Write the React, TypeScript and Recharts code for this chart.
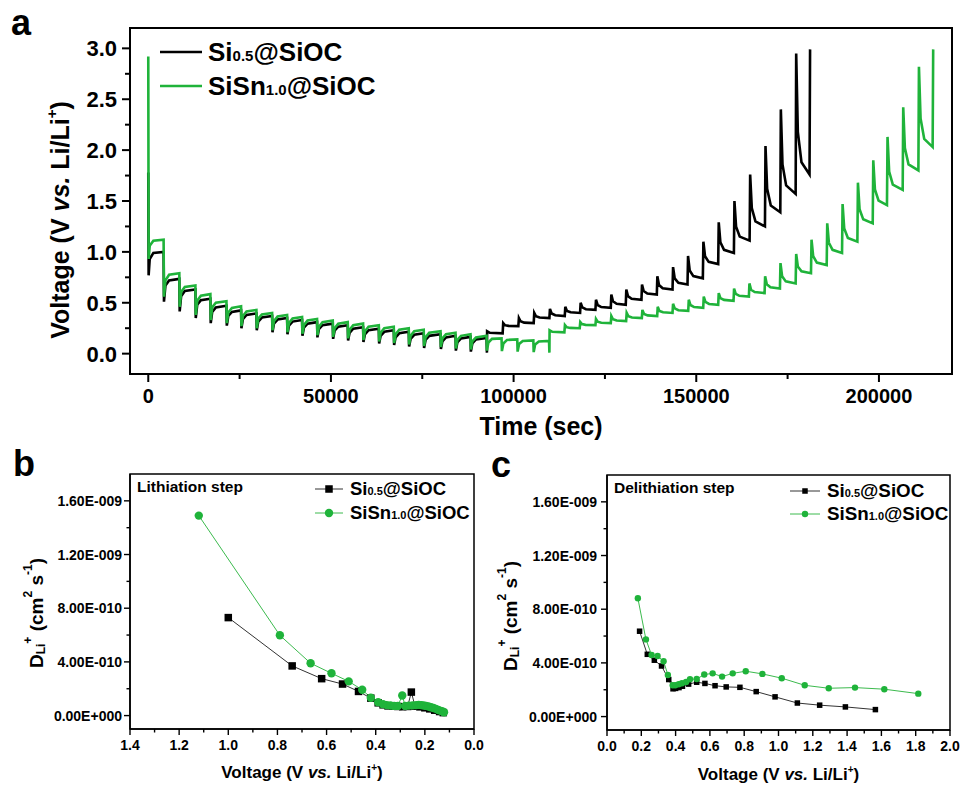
import React from 'react';
import { LineChart, Line, XAxis, YAxis, ReferenceArea, Legend, Label } from 'recharts';

const FONT = "Arial, 'Liberation Sans', Helvetica, sans-serif";
const BLACK = '#000000';
const GREEN = '#1fb33a';
const GREEN_LINE = '#3cba4e';

// (a) GITT profiles, [time (s), voltage (V)]
const si05Lith: [number, number][] = [
  [0, 1.78], [100, 0.77], [400, 0.93], [1400, 0.99],
  [4200, 1.0], [4300, 0.51], [4700, 0.67], [5700, 0.72],
  [8500, 0.735], [8600, 0.415], [9000, 0.565], [10000, 0.615],
  [12900, 0.63], [13000, 0.35], [13400, 0.48], [14400, 0.525],
  [17000, 0.54], [17100, 0.3], [17500, 0.41], [18500, 0.455],
  [21400, 0.47], [21500, 0.275], [21900, 0.37], [22900, 0.41],
  [25400, 0.425], [25500, 0.25], [25900, 0.34], [26900, 0.38],
  [29600, 0.395], [29700, 0.23], [30100, 0.315], [31100, 0.355],
  [33900, 0.37], [34000, 0.21], [34400, 0.295], [35400, 0.335],
  [38000, 0.35], [38100, 0.19], [38500, 0.275], [39500, 0.315],
  [42100, 0.33], [42200, 0.175], [42600, 0.255], [43600, 0.295],
  [46200, 0.31], [46300, 0.16], [46700, 0.24], [47700, 0.28],
  [50500, 0.295], [50600, 0.145], [51000, 0.225], [52000, 0.265],
  [54600, 0.28], [54700, 0.13], [55100, 0.205], [56100, 0.245],
  [58800, 0.26], [58900, 0.115], [59300, 0.19], [60300, 0.23],
  [63100, 0.245], [63200, 0.1], [63600, 0.175], [64600, 0.215],
  [67200, 0.23], [67300, 0.085], [67700, 0.16], [68700, 0.2],
  [71300, 0.215], [71400, 0.07], [71800, 0.145], [72800, 0.185],
  [75400, 0.2], [75500, 0.055], [75900, 0.135], [76900, 0.175],
  [80000, 0.19], [80100, 0.045], [80500, 0.12], [81500, 0.16],
  [84100, 0.175], [84200, 0.03], [84600, 0.11], [85600, 0.15],
  [88200, 0.165], [88300, 0.02], [88700, 0.1], [89700, 0.14],
  [92600, 0.155], [92700, 0.01],
];

const si05Delith: [number, number][] = [
  [92750, 0.22], [93500, 0.205], [97000, 0.2],
  [97150, 0.3], [97600, 0.28], [98600, 0.273], [101300, 0.27],
  [101450, 0.35], [101900, 0.318], [102900, 0.305], [105500, 0.3],
  [105650, 0.4], [106100, 0.368], [107100, 0.355], [109800, 0.35],
  [109950, 0.44], [110400, 0.395], [111400, 0.377], [114000, 0.37],
  [114150, 0.46], [114600, 0.42], [115600, 0.406], [118200, 0.4],
  [118350, 0.5], [118800, 0.455], [119800, 0.437], [122400, 0.43],
  [122550, 0.53], [123000, 0.478], [124000, 0.458], [126600, 0.45],
  [126750, 0.58], [127200, 0.515], [128200, 0.49], [130700, 0.48],
  [130850, 0.63], [131300, 0.565], [132300, 0.54], [135000, 0.53],
  [135150, 0.68], [135600, 0.615], [136600, 0.59], [139200, 0.58],
  [139350, 0.76], [139800, 0.675], [140800, 0.643], [143500, 0.63],
  [143650, 0.85], [144100, 0.74], [145100, 0.697], [147600, 0.68],
  [147750, 0.96], [148200, 0.817], [149200, 0.762], [151800, 0.74],
  [151950, 1.1], [152400, 0.957], [153400, 0.902], [156000, 0.88],
  [156150, 1.29], [156600, 1.095], [157600, 1.02], [160300, 0.99],
  [160450, 1.5], [160900, 1.247], [161900, 1.15], [164600, 1.11],
  [164750, 1.76], [165200, 1.43], [166200, 1.3], [168800, 1.25],
  [168950, 2.04], [169400, 1.62], [170400, 1.455], [173000, 1.39],
  [173150, 2.4], [173600, 1.86], [174600, 1.653], [177200, 1.57],
  [177350, 2.95], [177800, 2.18], [178800, 1.88], [181000, 1.76],
  [181150, 2.99],
];

const sisnLith: [number, number][] = [
  [0, 2.92], [100, 0.93], [400, 1.06], [1400, 1.11],
  [4200, 1.12], [4300, 0.56], [4700, 0.72], [5700, 0.775],
  [8500, 0.79], [8600, 0.46], [9000, 0.605], [10000, 0.655],
  [12900, 0.67], [13000, 0.38], [13400, 0.52], [14400, 0.57],
  [17000, 0.585], [17100, 0.33], [17500, 0.455], [18500, 0.5],
  [21400, 0.515], [21500, 0.3], [21900, 0.405], [22900, 0.45],
  [25400, 0.465], [25500, 0.27], [25900, 0.37], [26900, 0.415],
  [29600, 0.43], [29700, 0.25], [30100, 0.345], [31100, 0.385],
  [33900, 0.4], [34000, 0.23], [34400, 0.32], [35400, 0.365],
  [38000, 0.38], [38100, 0.21], [38500, 0.3], [39500, 0.345],
  [42100, 0.36], [42200, 0.195], [42600, 0.28], [43600, 0.325],
  [46200, 0.34], [46300, 0.18], [46700, 0.265], [47700, 0.31],
  [50500, 0.325], [50600, 0.165], [51000, 0.25], [52000, 0.295],
  [54600, 0.31], [54700, 0.15], [55100, 0.235], [56100, 0.28],
  [58800, 0.295], [58900, 0.135], [59300, 0.22], [60300, 0.265],
  [63100, 0.28], [63200, 0.12], [63600, 0.205], [64600, 0.25],
  [67200, 0.265], [67300, 0.105], [67700, 0.19], [68700, 0.235],
  [71300, 0.25], [71400, 0.09], [71800, 0.175], [72800, 0.22],
  [75400, 0.235], [75500, 0.075], [75900, 0.16], [76900, 0.205],
  [80000, 0.22], [80100, 0.065], [80500, 0.15], [81500, 0.19],
  [84100, 0.205], [84200, 0.05], [84600, 0.135], [85600, 0.175],
  [88200, 0.19], [88300, 0.04], [88700, 0.12], [89700, 0.16],
  [92600, 0.175], [92700, 0.03], [93100, 0.11], [94100, 0.145],
  [96700, 0.15], [96800, 0.025], [97200, 0.1], [98200, 0.135],
  [101000, 0.14], [101100, 0.02], [101500, 0.095], [102500, 0.125],
  [105400, 0.13], [105500, 0.015], [105900, 0.09], [106900, 0.12],
  [109700, 0.125], [109800, 0.01],
];

const sisnDelith: [number, number][] = [
  [109850, 0.23], [110600, 0.215], [113900, 0.21],
  [114050, 0.28], [114500, 0.26], [115500, 0.253], [118100, 0.25],
  [118250, 0.31], [118700, 0.29], [119700, 0.283], [122400, 0.28],
  [122550, 0.34], [123000, 0.314], [124000, 0.304], [126600, 0.3],
  [126750, 0.37], [127200, 0.338], [128200, 0.325], [130800, 0.32],
  [130950, 0.4], [131400, 0.368], [132400, 0.355], [135100, 0.35],
  [135250, 0.43], [135700, 0.39], [136700, 0.376], [139300, 0.37],
  [139450, 0.46], [139900, 0.42], [140900, 0.406], [143500, 0.4],
  [143650, 0.49], [144100, 0.445], [145100, 0.427], [147800, 0.42],
  [147950, 0.53], [148400, 0.478], [149400, 0.458], [151900, 0.45],
  [152050, 0.56], [152500, 0.508], [153500, 0.488], [156000, 0.48],
  [156150, 0.595], [156600, 0.546], [157600, 0.528], [160200, 0.52],
  [160350, 0.64], [160800, 0.588], [161800, 0.568], [164400, 0.56],
  [164550, 0.69], [165000, 0.628], [166000, 0.605], [168700, 0.595],
  [168850, 0.76], [169300, 0.682], [170300, 0.652], [172900, 0.64],
  [173050, 0.89], [173500, 0.76], [174500, 0.71], [177200, 0.69],
  [177350, 0.98], [177800, 0.856], [178800, 0.81], [181400, 0.79],
  [181550, 1.12], [182000, 0.958], [183000, 0.895], [185700, 0.87],
  [185850, 1.28], [186300, 1.09], [187300, 1.02], [189900, 0.99],
  [190050, 1.47], [190500, 1.23], [191500, 1.137], [194100, 1.1],
  [194250, 1.68], [194700, 1.42], [195700, 1.32], [198300, 1.28],
  [198450, 1.9], [198900, 1.614], [199900, 1.504], [202200, 1.46],
  [202350, 2.13], [202800, 1.79], [203800, 1.66], [206500, 1.61],
  [206650, 2.42], [207100, 2.02], [208100, 1.86], [210800, 1.8],
  [210950, 2.82], [211400, 2.31], [212400, 2.11], [214700, 2.03],
  [214850, 2.99],
];

const timeTicks = [0, 25000, 50000, 75000, 100000, 125000, 150000, 175000, 200000];
const timeMajor = [0, 50000, 100000, 150000, 200000];
const voltTicks = [0, 0.25, 0.5, 0.75, 1.0, 1.25, 1.5, 1.75, 2.0, 2.25, 2.5, 2.75, 3.0];
const voltMajor = [0, 0.5, 1.0, 1.5, 2.0, 2.5, 3.0];

// (b) lithiation step: voltage (V) and D_Li+ (cm2/s)
const lithSiV = [1.0, 0.74, 0.62, 0.535, 0.47, 0.42, 0.39, 0.37, 0.35, 0.33, 0.31, 0.29, 0.27, 0.255, 0.24, 0.22, 0.2, 0.18, 0.16, 0.14, 0.125];
const lithSiD = [7.3e-10, 3.7e-10, 2.75e-10, 2.35e-10, 1.8e-10, 1.3e-10, 0.95e-10, 0.8e-10, 0.72e-10, 0.7e-10, 0.68e-10, 0.66e-10, 0.68e-10, 1.75e-10, 0.7e-10, 0.65e-10, 0.58e-10, 0.5e-10, 0.4e-10, 0.3e-10, 0.22e-10];
const lithSnV = [1.12, 0.79, 0.665, 0.58, 0.51, 0.455, 0.42, 0.39, 0.37, 0.355, 0.34, 0.325, 0.31, 0.292, 0.28, 0.265, 0.25, 0.235, 0.225, 0.215, 0.205, 0.195, 0.185, 0.175, 0.165, 0.155, 0.145, 0.135, 0.128, 0.122];
const lithSnD = [14.9e-10, 5.98e-10, 3.9e-10, 3.15e-10, 2.55e-10, 1.92e-10, 1.33e-10, 1.0e-10, 0.85e-10, 0.78e-10, 0.75e-10, 0.72e-10, 0.72e-10, 1.5e-10, 0.72e-10, 0.74e-10, 0.76e-10, 0.78e-10, 0.8e-10, 0.78e-10, 0.75e-10, 0.72e-10, 0.68e-10, 0.62e-10, 0.56e-10, 0.5e-10, 0.42e-10, 0.35e-10, 0.3e-10, 0.25e-10];

// (c) delithiation step
const delithSiV = [0.19, 0.235, 0.276, 0.318, 0.36, 0.385, 0.4, 0.42, 0.44, 0.476, 0.523, 0.571, 0.63, 0.695, 0.775, 0.87, 0.98, 1.11, 1.24, 1.39, 1.565];
const delithSiD = [6.36e-10, 4.64e-10, 4.2e-10, 3.77e-10, 2.76e-10, 2.07e-10, 2.1e-10, 2.16e-10, 2.26e-10, 2.42e-10, 2.56e-10, 2.47e-10, 2.3e-10, 2.21e-10, 2.18e-10, 1.86e-10, 1.47e-10, 1.01e-10, 0.85e-10, 0.72e-10, 0.52e-10];
const delithSnV = [0.18, 0.227, 0.26, 0.295, 0.33, 0.355, 0.383, 0.398, 0.418, 0.437, 0.461, 0.484, 0.523, 0.567, 0.616, 0.671, 0.733, 0.809, 0.906, 1.019, 1.153, 1.293, 1.446, 1.617, 1.815];
const delithSnD = [8.82e-10, 5.75e-10, 4.59e-10, 4.51e-10, 4.12e-10, 3.1e-10, 2.33e-10, 2.33e-10, 2.41e-10, 2.48e-10, 2.58e-10, 2.78e-10, 2.8e-10, 3.13e-10, 3.22e-10, 2.98e-10, 3.22e-10, 3.38e-10, 3.18e-10, 2.86e-10, 2.33e-10, 2.11e-10, 2.16e-10, 2.04e-10, 1.71e-10];

const dTicks = [0, 2e-10, 4e-10, 6e-10, 8e-10, 1e-9, 1.2e-9, 1.4e-9, 1.6e-9];
const dMajor = [0, 4e-10, 8e-10, 1.2e-9, 1.6e-9];
const lithVTicks = [0, 0.1, 0.2, 0.3, 0.4, 0.5, 0.6, 0.7, 0.8, 0.9, 1.0, 1.1, 1.2, 1.3, 1.4];
const delithVTicks = [0, 0.1, 0.2, 0.3, 0.4, 0.5, 0.6, 0.7, 0.8, 0.9, 1.0, 1.1, 1.2, 1.3, 1.4, 1.5, 1.6, 1.7, 1.8, 1.9, 2.0];
const vMajor = [0, 0.2, 0.4, 0.6, 0.8, 1.0, 1.2, 1.4, 1.6, 1.8, 2.0];

const seriesNames: [string, string, string][] = [
  ['Si', '0.5', '@SiOC'],
  ['SiSn', '1.0', '@SiOC'],
];

const toPoints = (pairs: [number, number][]) => pairs.map(([t, v]) => ({ t, v }));
const zipXY = (xs: number[], ys: number[]) => xs.map((x, i) => ({ x, y: ys[i] }));

const siGitt = toPoints([...si05Lith, ...si05Delith]);
const snGitt = toPoints([...sisnLith, ...sisnDelith]);

const fmtE = (v: number) => {
  if (v === 0) return '0.00E+000';
  const [m, e] = v.toExponential(2).split('e');
  const n = parseInt(e, 10);
  return `${m}E${n < 0 ? '-' : '+'}${String(Math.abs(n)).padStart(3, '0')}`;
};

const isIn = (v: number, list: number[]) =>
  list.some((m) => Math.abs(m - v) <= Math.abs(m) * 1e-9 + 1e-15);

type TickOpts = {
  side: 'x' | 'y';
  majors: number[];
  fmt: (v: number) => string;
  fontSize: number;
  majorLen: number;
  minorLen: number;
  gap: number;
  width: number;
};

// ticks drawn by hand so minor ticks get no label and a shorter mark
function axisTick(o: TickOpts) {
  return function TickMark(props: any) {
    const { x, y, payload } = props;
    const v = payload.value as number;
    const major = isIn(v, o.majors);
    const len = major ? o.majorLen : o.minorLen;
    const txt = { fontSize: o.fontSize, fontWeight: 700, fontFamily: FONT, fill: '#000' };
    if (o.side === 'x') {
      return (
        <g>
          <line x1={x} x2={x} y1={y} y2={y + len} stroke="#000" strokeWidth={o.width} />
          {major && (
            <text x={x} y={y + o.gap} textAnchor="middle" {...txt}>
              {o.fmt(v)}
            </text>
          )}
        </g>
      );
    }
    return (
      <g>
        <line x1={x - len} x2={x} y1={y} y2={y} stroke="#000" strokeWidth={o.width} />
        {major && (
          <text x={x - o.gap} y={y} dy="0.36em" textAnchor="end" {...txt}>
            {o.fmt(v)}
          </text>
        )}
      </g>
    );
  };
}

function NameText({ parts, size }: { parts: [string, string, string]; size: number }) {
  return (
    <span style={{ fontSize: size, fontWeight: 700, fontFamily: FONT, whiteSpace: 'nowrap' }}>
      {parts[0]}
      <span style={{ fontSize: Math.round(size * 0.58) }}>{parts[1]}</span>
      {parts[2]}
    </span>
  );
}

function GittLegend() {
  const colors = [BLACK, GREEN];
  return (
    <div>
      {seriesNames.map((parts, i) => (
        <div key={parts.join('')} style={{ display: 'flex', alignItems: 'center', height: 34 }}>
          <svg width={48} height={10}>
            <line x1={0} x2={42} y1={5} y2={5} stroke={colors[i]} strokeWidth={2.6} />
          </svg>
          <NameText parts={parts} size={26} />
        </div>
      ))}
    </div>
  );
}

function DiffLegend({ rowH, lineW, size, sq, r }: { rowH: number; lineW: number; size: number; sq: number; r: number }) {
  return (
    <div>
      {seriesNames.map((parts, i) => (
        <div key={parts.join('')} style={{ display: 'flex', alignItems: 'center', height: rowH }}>
          <svg width={lineW + 7} height={12}>
            <line x1={0} x2={lineW} y1={6} y2={6} stroke={i === 0 ? '#333' : GREEN_LINE} strokeWidth={1} />
            {i === 0 ? (
              <rect x={lineW / 2 - sq / 2} y={6 - sq / 2} width={sq} height={sq} fill={BLACK} />
            ) : (
              <circle cx={lineW / 2} cy={6} r={r} fill={GREEN} />
            )}
          </svg>
          <NameText parts={parts} size={size} />
        </div>
      ))}
    </div>
  );
}

function GittChart() {
  return (
    <LineChart width={962} height={450} margin={{ top: 28, right: 10, bottom: 26, left: 0 }}>
      <XAxis
        type="number"
        dataKey="t"
        domain={[-5000, 220000]}
        allowDataOverflow
        ticks={timeTicks}
        interval={0}
        height={50}
        tickSize={0}
        tickMargin={0}
        tickLine={false}
        axisLine={{ stroke: '#000', strokeWidth: 2 }}
        tick={axisTick({ side: 'x', majors: timeMajor, fmt: (v) => String(v), fontSize: 20, majorLen: 8, minorLen: 5, gap: 29, width: 2 })}
      >
        <Label
          content={(p: any) => (
            <text
              x={p.viewBox.x + p.viewBox.width / 2}
              y={p.viewBox.y + 61}
              textAnchor="middle"
              fontSize={25}
              fontWeight={700}
              fontFamily={FONT}
              fill="#000"
            >
              Time (sec)
            </text>
          )}
        />
      </XAxis>
      <YAxis
        type="number"
        domain={[-0.2, 3.2]}
        allowDataOverflow
        ticks={voltTicks}
        interval={0}
        width={130}
        tickSize={0}
        tickMargin={0}
        tickLine={false}
        axisLine={{ stroke: '#000', strokeWidth: 2 }}
        tick={axisTick({ side: 'y', majors: voltMajor, fmt: (v) => v.toFixed(1), fontSize: 22, majorLen: 8, minorLen: 5, gap: 13, width: 2 })}
      >
        <Label
          content={() => (
            <text
              x={60}
              y={220}
              transform="rotate(-90, 60, 220)"
              textAnchor="middle"
              dominantBaseline="central"
              fontSize={25}
              fontWeight={700}
              fontFamily={FONT}
              fill="#000"
            >
              {'Voltage (V '}
              <tspan fontStyle="italic">vs.</tspan>
              {' Li/Li'}
              <tspan dy={-9} fontSize={15}>+</tspan>
              <tspan dy={9}>)</tspan>
            </text>
          )}
        />
      </YAxis>
      <ReferenceArea x1={-5000} x2={220000} y1={-0.2} y2={3.2} fill="none" stroke="#000" strokeWidth={2} />
      <Line data={siGitt} dataKey="v" type="linear" stroke={BLACK} strokeWidth={2.6} dot={false} isAnimationActive={false} />
      <Line data={snGitt} dataKey="v" type="linear" stroke={GREEN} strokeWidth={2.6} dot={false} isAnimationActive={false} />
      <Legend
        layout="vertical"
        align="center"
        verticalAlign="middle"
        wrapperStyle={{ left: 160, top: 35, width: 320 }}
        content={() => <GittLegend />}
      />
    </LineChart>
  );
}

type DiffProps = {
  width: number;
  margin: { top: number; right: number; bottom: number; left: number };
  yWidth: number;
  xMax: number;
  reversed: boolean;
  xTicks: number[];
  si: { x: number; y: number }[];
  sn: { x: number; y: number }[];
  step: string;
  sq: number;
  r: number;
  yLabel: [number, number];
  xLabelDy: number;
  yGap: number;
  legend: { left: number; top: number; rowH: number; lineW: number; size: number };
};

function DiffChart(p: DiffProps) {
  const sq = p.sq;
  return (
    <LineChart width={p.width} height={345} margin={p.margin}>
      <XAxis
        type="number"
        dataKey="x"
        domain={[0, p.xMax]}
        allowDataOverflow
        reversed={p.reversed}
        ticks={p.xTicks}
        interval={0}
        height={40}
        tickSize={0}
        tickMargin={0}
        tickLine={false}
        axisLine={{ stroke: '#000', strokeWidth: 1.5 }}
        tick={axisTick({ side: 'x', majors: vMajor, fmt: (v) => v.toFixed(1), fontSize: 14, majorLen: 6, minorLen: 3.5, gap: 21, width: 1.4 })}
      >
        <Label
          content={(lp: any) => (
            <text
              x={lp.viewBox.x + lp.viewBox.width / 2}
              y={lp.viewBox.y + p.xLabelDy}
              textAnchor="middle"
              fontSize={17}
              fontWeight={700}
              fontFamily={FONT}
              fill="#000"
            >
              {'Voltage (V '}
              <tspan fontStyle="italic">vs.</tspan>
              {' Li/Li'}
              <tspan dy={-7} fontSize={10}>+</tspan>
              <tspan dy={7}>)</tspan>
            </text>
          )}
        />
      </XAxis>
      <YAxis
        type="number"
        domain={[-1e-10, 1.8e-9]}
        allowDataOverflow
        ticks={dTicks}
        interval={0}
        width={p.yWidth}
        tickSize={0}
        tickMargin={0}
        tickLine={false}
        axisLine={{ stroke: '#000', strokeWidth: 1.5 }}
        tick={axisTick({ side: 'y', majors: dMajor, fmt: fmtE, fontSize: 14, majorLen: 6, minorLen: 3.5, gap: p.yGap, width: 1.4 })}
      >
        <Label
          content={() => {
            const [cx, cy] = p.yLabel;
            return (
              <text
                x={cx}
                y={cy}
                transform={`rotate(-90, ${cx}, ${cy})`}
                textAnchor="middle"
                dominantBaseline="central"
                fontSize={19}
                fontWeight={700}
                fontFamily={FONT}
                fill="#000"
              >
                D
                <tspan dy={5} fontSize={12}>Li</tspan>
                <tspan dy={-13} fontSize={12}>+</tspan>
                <tspan dy={8}>{' (cm'}</tspan>
                <tspan dy={-8} fontSize={12}>2</tspan>
                <tspan dy={8}>{' s'}</tspan>
                <tspan dy={-8} fontSize={12}>-1</tspan>
                <tspan dy={8}>)</tspan>
              </text>
            );
          }}
        />
      </YAxis>
      <ReferenceArea x1={0} x2={p.xMax} y1={-1e-10} y2={1.8e-9} fill="none" stroke="#000" strokeWidth={1.5}>
        <Label value={p.step} position="insideTopLeft" offset={7} fontSize={15.5} fontWeight={700} fontFamily={FONT} fill="#000" />
      </ReferenceArea>
      <Line
        data={p.si}
        dataKey="y"
        type="linear"
        stroke="#333"
        strokeWidth={1}
        isAnimationActive={false}
        dot={(d: any) => <rect key={`sq${d.index}`} x={d.cx - sq / 2} y={d.cy - sq / 2} width={sq} height={sq} fill={BLACK} />}
      />
      <Line
        data={p.sn}
        dataKey="y"
        type="linear"
        stroke={GREEN_LINE}
        strokeWidth={1}
        isAnimationActive={false}
        dot={{ r: p.r, fill: GREEN, stroke: GREEN, strokeWidth: 0 }}
      />
      <Legend
        layout="vertical"
        align="center"
        verticalAlign="middle"
        wrapperStyle={{ left: p.legend.left, top: p.legend.top, width: 200 }}
        content={() => (
          <DiffLegend rowH={p.legend.rowH} lineW={p.legend.lineW} size={p.legend.size} sq={sq} r={p.r} />
        )}
      />
    </LineChart>
  );
}

export default function App() {
  return (
    <div style={{ position: 'absolute', left: 0, top: 0, width: 962, height: 785, background: '#fff' }}>
      <div style={{ position: 'absolute', left: 0, top: 0 }}>
        <GittChart />
      </div>
      <div style={{ position: 'absolute', left: 0, top: 440 }}>
        <DiffChart
          width={495}
          margin={{ top: 34, right: 21, bottom: 16, left: 0 }}
          yWidth={130}
          xMax={1.4}
          reversed
          xTicks={lithVTicks}
          si={zipXY(lithSiV, lithSiD)}
          sn={zipXY(lithSnV, lithSnD)}
          step="Lithiation step"
          sq={7.5}
          r={4.2}
          yLabel={[36, 173]}
          xLabelDy={49}
          yGap={8}
          legend={{ left: 315, top: 37, rowH: 24, lineW: 28, size: 18.5 }}
        />
      </div>
      <div style={{ position: 'absolute', left: 480, top: 440 }}>
        <DiffChart
          width={482}
          margin={{ top: 35, right: 12, bottom: 15, left: 0 }}
          yWidth={127}
          xMax={2.0}
          reversed={false}
          xTicks={delithVTicks}
          si={zipXY(delithSiV, delithSiD)}
          sn={zipXY(delithSnV, delithSnD)}
          step="Delithiation step"
          sq={5.5}
          r={3.2}
          yLabel={[30, 176]}
          xLabelDy={50}
          yGap={10}
          legend={{ left: 310, top: 39, rowH: 23, lineW: 30, size: 18.8 }}
        />
      </div>
      <svg width={962} height={785} style={{ position: 'absolute', left: 0, top: 0, pointerEvents: 'none' }}>
        <g fontFamily={FONT} fontWeight={700} fontSize={36} fill="#000">
          <text x={11} y={35}>a</text>
          <text x={13} y={476}>b</text>
          <text x={491} y={477}>c</text>
        </g>
      </svg>
    </div>
  );
}
